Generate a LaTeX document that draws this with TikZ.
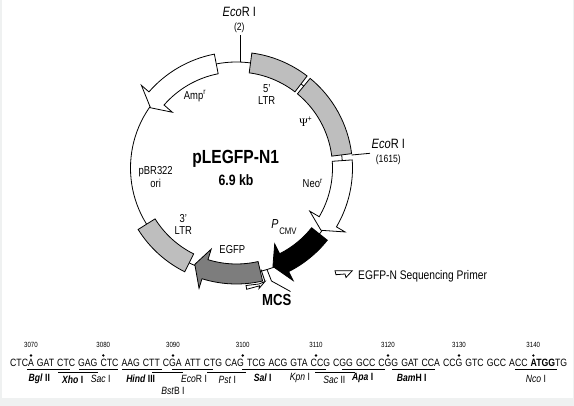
\documentclass[tikz,border=0pt]{standalone}
\usepackage{fontspec}
\setmainfont{Liberation Sans}[FakeStretch=0.82]
\newfontfamily\psifont{Liberation Serif}
\newcommand\fs[1]{\fontsize{#1}{#1}\selectfont}
\newcommand\bandpath[4][]{\draw[feat,#1] (#2:116) arc[start angle=#2,end angle=#3,radius=116] -- (#3:96) arc[start angle=#3,end angle=#2,radius=96] -- cycle;}
\newcommand\arrowpath[4][]{\draw[feat,#1] (#2:116) arc[start angle=#2,end angle=#3,radius=116] -- (#3:126) -- (#4:105) -- (#3:85) -- (#3:96) arc[start angle=#3,end angle=#2,radius=96] -- cycle;}
\definecolor{ltrgrey}{HTML}{BEBEBE}
\definecolor{egfpgrey}{HTML}{7D7D7D}
\definecolor{margin}{HTML}{EFF1F1}
\tikzset{
  feat/.style={draw=black,line width=0.8pt,line join=miter},
  lab/.style={inner sep=0pt,font=\fs{11.5}},
  cut/.style={inner sep=0pt,font=\fs{10.5}},
  num/.style={inner sep=0pt,font=\fs{7.5}},
  ul/.style={line width=0.8pt},
  tickline/.style={line width=0.8pt},
  dotmark/.style={circle,fill=black,inner sep=0pt,minimum size=2.6pt},
}
\begin{document}
\begin{tikzpicture}[x=1pt,y=-1pt]
\useasboundingbox (0,0) rectangle (574,406);
\fill[margin] (0,0) rectangle (574,406);
\fill[white] (1.5,0) rectangle (573,398.5);
\begin{scope}[shift={(236.5,168)},y=1pt]
  \draw[line width=0.8pt] (0,0) circle[radius=106];
  \bandpath[fill=ltrgrey]{82.4}{52.5}{}
  \bandpath[fill=ltrgrey]{50.6}{7.1}{}
  \bandpath[fill=ltrgrey]{212}{243.5}{}
  \arrowpath[fill=white]{101}{139}{145}
  \arrowpath[fill=white]{4}{-30.5}{-36.4}
  \arrowpath[fill=black]{-38.5}{-63.3}{-69.7}
  \arrowpath[fill=egfpgrey]{-77}{-107.3}{-113.4}
\end{scope}
% restriction ticks
\coordinate (topA) at (240,35); \coordinate (topB) at (240,62);
\coordinate (rgtA) at (351.7,155); \coordinate (rgtB) at (370,153.3);
\draw[tickline] (topA) -- (topB);
\draw[tickline] (rgtA) -- (rgtB);
% MCS lines
\coordinate (m1) at (261,269.5); \coordinate (m2) at (265,281.5);
\coordinate (m3) at (267,269.5); \coordinate (m4) at (271.5,281); \coordinate (m5) at (290.5,291.5);
\draw[tickline] (m1) -- (m2);
\draw[tickline] (m3) -- (m4) -- (m5);
% primers
\draw[line width=0.8pt,fill=white] (246,285.5) -- (259,284) -- (265,281.5) -- (259,288.5) -- (259.5,285.8) -- (246.7,289.3) -- cycle;
\draw[line width=0.8pt,fill=white] (335,270.7) -- (352.3,270.7) -- (346,277.5) -- (345,274) -- (336,274.7) -- cycle;
% map labels
\node[lab,font=\fs{13.5}] (eco1) at (239.3,11.7) {\textit{Eco}R I};
\node[num,font=\fs{10.5}] (pos1) at (239.3,27.3) {(2)};
\node[lab,font=\fs{13.5}] (eco2) at (388.3,144.3) {\textit{Eco}R I};
\node[num,font=\fs{10.5}] (pos2) at (388.3,159.3) {(1615)};
\node[lab] (fivep) at (266.7,88.5) {5'};
\node[lab] (ltra) at (266.7,100.7) {LTR};
\node[lab] (amp) at (195,96) {Amp\textsuperscript{r}};
\node[lab] (psi) at (305.7,121.7) {{\psifont Ψ}\textsuperscript{+}};
\node[inner sep=0pt,font=\fs{19}\bfseries] (title) at (235.7,159.3) {pLEGFP-N1};
\node[inner sep=0pt,font=\fs{15}\bfseries] (size) at (236,180) {6.9 kb};
\node[lab] (pbr) at (155.7,172) {pBR322};
\node[lab] (ori) at (155.7,183.3) {ori};
\node[lab] (neo) at (312.7,183.3) {Neo\textsuperscript{r}};
\node[lab,font=\fs{13}] (pp) at (275,224.5) {\textit{P}};
\node[lab,font=\fs{9.5}] (cmv) at (288,231.7) {CMV};
\node[lab] (egfp) at (232.3,249.3) {EGFP};
\node[lab] (threep) at (183.3,219) {3'};
\node[lab] (ltrb) at (183.3,231) {LTR};
\node[inner sep=0pt,font=\fs{16}\bfseries] (mcs) at (276.7,300) {MCS};
\node[lab,anchor=west,font=\fs{12.5}] (primer) at (358,276) {EGFP-N Sequencing Primer};
% sequence
\node[inner sep=0pt,anchor=base west,font=\fs{10.6}] (seq) at (10,366.5) {\makebox[557pt][s]{CTCA GAT CTC GAG CTC AAG CTT CGA ATT CTG CAG TCG ACG GTA CCG CGG GCC CGG GAT CCA CCG GTC GCC ACC \textbf{ATGG}TG}};
\foreach \n/\x/\t in {a/31/3070,b/103.3/3080,c/173/3090,d/242.7/3100,e/316/3110,f/388/3120,g/459/3130,h/533.3/3140}{
  \node[num] (n\n) at (\x,345) {\t};
  \node[dotmark] (d\n) at (\x,355.5) {};
}
\foreach \a/\b/\y in {27/70/369,58/98/372.3,79/118/369,122/162/369,152/183/372.3,172/213/369,207/246/372.3,242/284/369,284/326/369,315/355/372.3,342/385/369,392/435/369,515/557/369}{
  \draw[ul] (\a,\y) -- (\b,\y);
}
\node[cut] (bgl) at (39.3,379) {\textbf{\textit{Bgl} II}};
\node[cut] (xho) at (72.7,380) {\textbf{\textit{Xho} I}};
\node[cut] (sac) at (100.7,379) {\textit{Sac} I};
\node[cut] (hind) at (140.7,379) {\textbf{\textit{Hind} III}};
\node[cut] (bst) at (173,391) {\textit{Bst}B I};
\node[cut] (ecor) at (194,379) {\textit{Eco}R I};
\node[cut] (pst) at (227.3,380) {\textit{Pst} I};
\node[cut] (sal) at (262.7,377.5) {\textbf{\textit{Sal} I}};
\node[cut] (kpn) at (300,377.5) {\textit{Kpn} I};
\node[cut] (sacii) at (334.3,380) {\textit{Sac} II};
\node[cut] (apa) at (362.7,378) {\textbf{\textit{Apa} I}};
\node[cut] (bam) at (411.7,377.5) {\textbf{\textit{Bam}H I}};
\node[cut] (nco) at (536,379) {\textit{Nco} I};
\end{tikzpicture}
\end{document}
